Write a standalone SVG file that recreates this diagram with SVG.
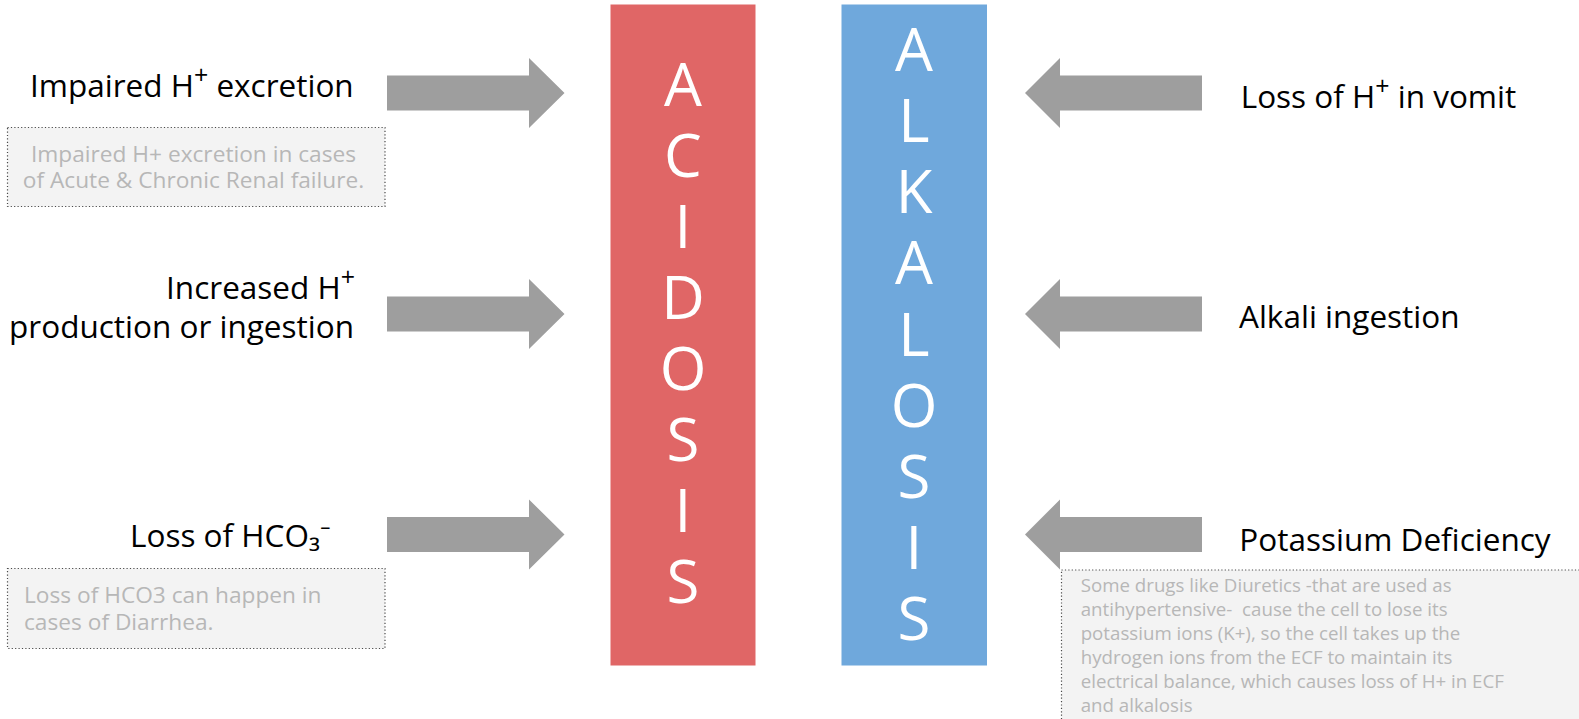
<svg xmlns="http://www.w3.org/2000/svg" xmlns:xlink="http://www.w3.org/1999/xlink" width="1579" height="719" viewBox="0 0 1579 719">
<style>
text{font-family:"Open Sans","Liberation Sans",sans-serif}
.lbl{font-size:31.5px;fill:#000}
.lbl2{font-size:31.5px;fill:#000;text-anchor:end}
.sup{font-size:25px}
.big{font-size:60px;fill:#fff;text-anchor:middle}
.note{fill:#f3f3f3;stroke:#4a4a4a;stroke-width:1.2;stroke-dasharray:1.2 2.2}
.notetxt{font-size:22.7px;fill:#b7b7b7}
.notetxt2{font-size:18.7px;fill:#b7b7b7}
.arrow{fill:#9e9e9e}
</style>
<defs>
<polygon id="arrR" points="387,-17.5 529,-17.5 529,-35 564.5,0 529,35 529,17.5 387,17.5"/>
<polygon id="arrL" points="1202,-17.5 1060,-17.5 1060,-35 1025,0 1060,35 1060,17.5 1202,17.5"/>
</defs>
<rect width="1579" height="719" fill="#fff"/>

<g id="acidosis">
<rect x="610.5" y="4.5" width="145" height="661" fill="#e06666"/>
<text class="big" x="683" y="106">A</text>
<text class="big" x="683" y="177">C</text>
<text class="big" x="683" y="248">I</text>
<text class="big" x="683" y="319">D</text>
<text class="big" x="683" y="390">O</text>
<text class="big" x="683" y="461">S</text>
<text class="big" x="683" y="532">I</text>
<text class="big" x="683" y="603">S</text>
</g>

<g id="alkalosis">
<rect x="841.5" y="4.5" width="145.5" height="661" fill="#6fa8dc"/>
<text class="big" x="914" y="70.7">A</text>
<text class="big" x="914" y="141.9">L</text>
<text class="big" x="914" y="213.1">K</text>
<text class="big" x="914" y="284.3">A</text>
<text class="big" x="914" y="355.5">L</text>
<text class="big" x="914" y="426.7">O</text>
<text class="big" x="914" y="497.9">S</text>
<text class="big" x="914" y="569.1">I</text>
<text class="big" x="914" y="640.3">S</text>
</g>

<g id="connectors">
<use xlink:href="#arrR" class="arrow" transform="translate(0,93)"/>
<use xlink:href="#arrR" class="arrow" transform="translate(0,314)"/>
<use xlink:href="#arrR" class="arrow" transform="translate(0,534.5)"/>
<use xlink:href="#arrL" class="arrow" transform="translate(0,93)"/>
<use xlink:href="#arrL" class="arrow" transform="translate(0,314)"/>
<use xlink:href="#arrL" class="arrow" transform="translate(0,534.5)"/>
</g>

<g id="impaired-excretion">
<text class="lbl" x="30" y="96.7">Impaired H<tspan class="sup" dy="-13">+</tspan><tspan dy="13"> excretion</tspan></text>
</g>
<g id="note-impaired">
<rect class="note" x="7.5" y="127.5" width="377.5" height="79"/>
<text class="notetxt" x="193.5" y="161.7" text-anchor="middle">Impaired H+ excretion in cases</text>
<text class="notetxt" x="193.5" y="188.3" text-anchor="middle">of Acute &amp; Chronic Renal failure.</text>
</g>

<g id="increased-production">
<text class="lbl2" x="355" y="299">Increased H<tspan class="sup" dy="-13">+</tspan></text>
<text class="lbl2" x="354" y="338">production or ingestion</text>
</g>

<g id="loss-hco3">
<text class="lbl" x="130" y="546.7">Loss of HCO₃⁻</text>
</g>
<g id="note-hco3">
<rect class="note" x="7.5" y="568.5" width="377.5" height="80"/>
<text class="notetxt" x="24" y="603.3">Loss of HCO3 can happen in</text>
<text class="notetxt" x="24" y="630">cases of Diarrhea.</text>
</g>

<g id="loss-vomit">
<text class="lbl" x="1240.7" y="107.7">Loss of H<tspan class="sup" dy="-13">+</tspan><tspan dy="13"> in vomit</tspan></text>
</g>

<g id="alkali-ingestion">
<text class="lbl" x="1239" y="328.4">Alkali ingestion</text>
</g>

<g id="potassium-deficiency">
<text class="lbl" x="1239.3" y="550.7">Potassium Deficiency</text>
</g>
<g id="note-potassium">
<rect class="note" x="1061.5" y="570" width="530" height="160"/>
<text class="notetxt2" x="1080.7" y="592">Some drugs like Diuretics -that are used as</text>
<text class="notetxt2" x="1080.7" y="616" xml:space="preserve">antihypertensive-  cause the cell to lose its</text>
<text class="notetxt2" x="1080.7" y="640">potassium ions (K+), so the cell takes up the</text>
<text class="notetxt2" x="1080.7" y="664">hydrogen ions from the ECF to maintain its</text>
<text class="notetxt2" x="1080.7" y="688">electrical balance, which causes loss of H+ in ECF</text>
<text class="notetxt2" x="1080.7" y="712">and alkalosis</text>
</g>
</svg>
